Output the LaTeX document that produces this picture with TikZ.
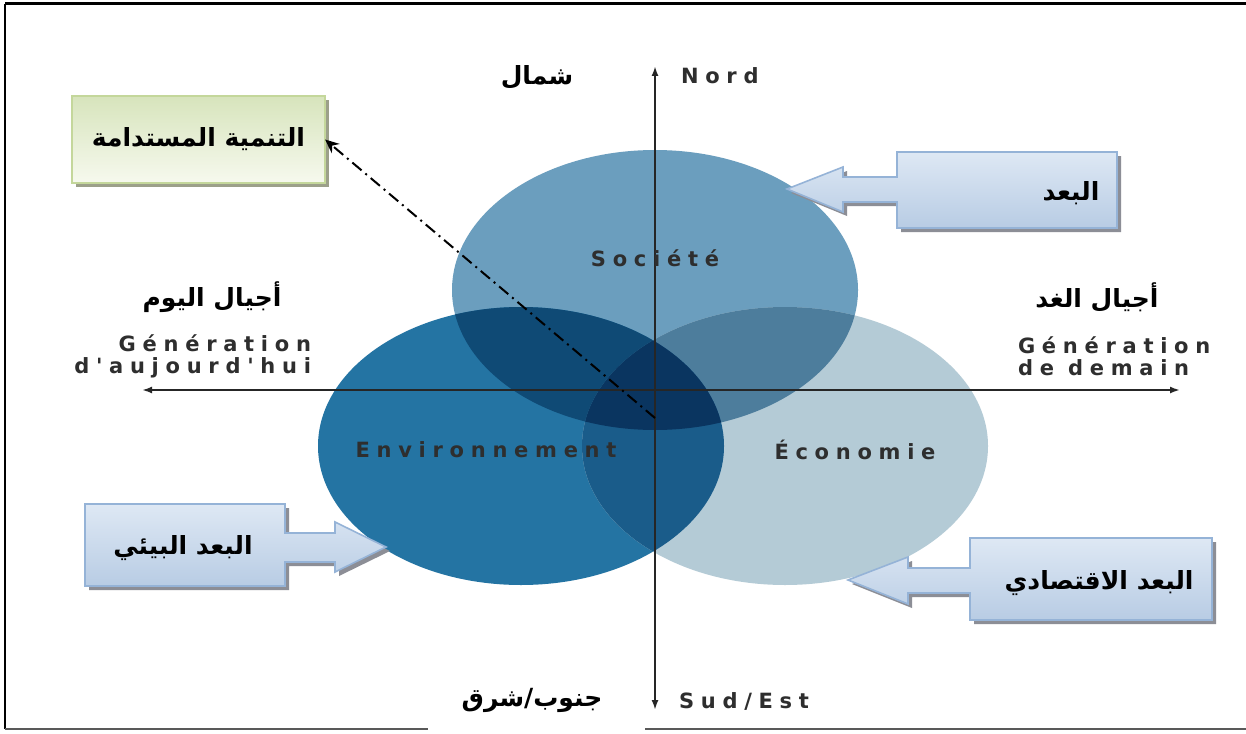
\documentclass[tikz,border=0pt]{standalone}
\usepackage{fontspec}
\setmainfont{Liberation Sans}
\newfontfamily\arabicfont[Script=Arabic]{DejaVu Sans}
\newfontfamily\latinwide[LetterSpace=32]{DejaVu Sans Bold}
\TeXXeTstate=1
\usetikzlibrary{positioning, shadows, arrows.meta}

\begin{document}
\begin{tikzpicture}[x=0.5pt,y=-0.5pt,
  arlabel/.style={text=black,inner sep=0pt,outer sep=0pt,font=\arabicfont\bfseries\fontsize{12.5}{14}\selectfont},
  frlabel/.style={text=black!82,inner sep=0pt,outer sep=0pt,font=\latinwide\fontsize{10.5}{11}\selectfont},
  axis/.style={draw=black!85,line width=1pt,{Latex[length=5pt,width=3.5pt]}-{Latex[length=5pt,width=3.5pt]}},
  callout/.style={draw=calloutLine,line width=0.8pt,top color=calloutTop,bottom color=calloutBottom,
    drop shadow={shadow xshift=2pt,shadow yshift=-2pt,fill=calloutShadow,opacity=1}},
  greenbox/.style={draw=greenLine,line width=0.8pt,top color=greenTop,bottom color=greenBottom,
    minimum width=126.5pt,minimum height=43.5pt,inner sep=0pt,
    drop shadow={shadow xshift=2pt,shadow yshift=-2pt,fill=greenShadow,opacity=1}},
  dashdot/.style={draw=black,line width=1pt,dash pattern=on 6pt off 2.5pt on 1pt off 2.5pt,-{Stealth[length=7pt,width=6pt]}}]
\definecolor{socColor}{RGB}{107,158,190}
\definecolor{envColor}{RGB}{36,116,163}
\definecolor{ecoColor}{RGB}{180,203,214}
\definecolor{envSoc}{RGB}{15,74,117}
\definecolor{ecoSoc}{RGB}{77,125,156}
\definecolor{envEco}{RGB}{26,92,138}
\definecolor{allThree}{RGB}{10,53,96}
\definecolor{calloutLine}{RGB}{149,179,215}
\definecolor{calloutTop}{RGB}{222,232,244}
\definecolor{calloutBottom}{RGB}{184,204,228}
\definecolor{calloutShadow}{RGB}{140,142,150}
\definecolor{greenLine}{RGB}{196,215,155}
\definecolor{greenTop}{RGB}{215,228,188}
\definecolor{greenBottom}{RGB}{246,249,238}
\definecolor{greenShadow}{RGB}{156,160,138}

\path[use as bounding box,fill=white] (0,0) rectangle (1246,733);

\path[draw=black,line width=1.5pt] (5,4) -- (1246,4);
\path[draw=black,line width=0.8pt] (5,4) -- (5,729);
\path[draw=black!65,line width=0.8pt] (5,729) -- (428,729);
\path[draw=black!65,line width=0.8pt] (645,729) -- (1246,729);

% three dimensions
\path[fill=socColor] (655,290) ellipse [x radius=203,y radius=140];
\path[fill=envColor] (521,446) ellipse [x radius=203,y radius=139];
\path[fill=ecoColor] (785,446) ellipse [x radius=203,y radius=139];
\begin{scope}
\path[clip] (655,290) ellipse [x radius=203,y radius=140];
\path[fill=envSoc] (521,446) ellipse [x radius=203,y radius=139];
\path[fill=ecoSoc] (785,446) ellipse [x radius=203,y radius=139];
\end{scope}
\begin{scope}
\path[clip] (521,446) ellipse [x radius=203,y radius=139];
\path[fill=envEco] (785,446) ellipse [x radius=203,y radius=139];
\end{scope}
\begin{scope}
\path[clip] (655,290) ellipse [x radius=203,y radius=140];
\path[clip] (521,446) ellipse [x radius=203,y radius=139];
\path[fill=allThree] (785,446) ellipse [x radius=203,y radius=139];
\end{scope}

% axes
\coordinate (axN) at (655,66);
\coordinate (axS) at (655,710);
\coordinate (axW) at (142,390);
\coordinate (axE) at (1180,390);
\coordinate (O) at (655,418);
\path[axis] (axS) -- (axN);
\path[axis] (axW) -- (axE);

\node[frlabel] (soc) at (655,258) {Société};
\node[frlabel] (env) at (486,450) {Environnement};
\node[frlabel] (eco) at (855,450) {Économie};
\node[frlabel,anchor=west] (nord) at (681,76) {Nord};
\node[frlabel,anchor=west] (sud) at (679,701) {Sud/Est};
\node[frlabel,anchor=east,align=right] (genJour) at (311,356) {Génération\\d'aujourd'hui};
\node[frlabel,anchor=west,align=left] (genDemain) at (1018,356) {Génération\\de demain};

\node[arlabel] (arNord) at (537,77) {\beginR شمال\endR};
\node[arlabel] (arSud) at (532,700) {\beginR جنوب/شرق\endR};
\node[arlabel] (arJour) at (212,297) {\beginR أجيال اليوم\endR};
\node[arlabel] (arDemain) at (1097,297) {\beginR أجيال الغد\endR};

% callouts
\path[callout] (897,152) -- (1117,152) -- (1117,228) -- (897,228) -- (897,202) -- (843,202) -- (843,212)
  -- (787,189) -- (843,167) -- (843,177) -- (897,177) -- cycle;
\path[callout] (85,504) -- (285,504) -- (285,533) -- (335,533) -- (335,522) -- (386,547) -- (335,572)
  -- (335,562) -- (285,562) -- (285,586) -- (85,586) -- cycle;
\path[callout] (970,538) -- (1212,538) -- (1212,620) -- (970,620) -- (970,593) -- (908,593) -- (908,604)
  -- (848,580) -- (908,557) -- (908,568) -- (970,568) -- cycle;
\node[arlabel] (dimSoc) at (1071,193) {\beginR البعد\endR};
\node[arlabel] (dimEnv) at (183,548) {\beginR البعد البيئي\endR};
\node[arlabel] (dimEco) at (1099,583) {\beginR البعد الاقتصادي\endR};

\node[greenbox,arlabel] (durable) at (198.5,139.5) {\beginR التنمية المستدامة\endR};
\path[dashdot] (O) -- (durable.east);
\end{tikzpicture}
\end{document}
